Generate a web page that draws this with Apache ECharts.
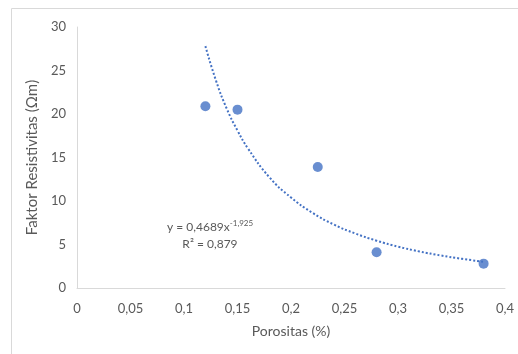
<!DOCTYPE html>
<html>
<head>
<meta charset="utf-8">
<script src="https://cdn.jsdelivr.net/npm/echarts@6/dist/echarts.min.js"></script>
<style>
  html, body { margin: 0; padding: 0; background: #fff; }
  #chart { width: 518px; height: 354px; }
</style>
</head>
<body>
<div id="chart"></div>
<script>
// data points
const porositas = [0.12, 0.15, 0.225, 0.28, 0.38];
const faktor = [20.9, 20.5, 13.9, 4.1, 2.8];

// power trendline y = 0,4689x^-1,925, sampled off the dotted curve
const trendX = [0.12, 0.13, 0.14, 0.15, 0.16, 0.18, 0.2, 0.22, 0.24, 0.26, 0.28, 0.3, 0.32, 0.34, 0.36, 0.38];
const trendY = [27.8, 23.8, 20.6, 18.1, 16.0, 12.7, 10.4, 8.65, 7.3, 6.27, 5.44, 4.76, 4.2, 3.74, 3.35, 3.02];

const xTicks = [0, 0.05, 0.1, 0.15, 0.2, 0.25, 0.3, 0.35, 0.4];
const yTicks = [0, 5, 10, 15, 20, 25, 30];

const blue = "#4472c4";
const gray = "#595959";
const font = "Lato, 'Open Sans', sans-serif";

const chart = echarts.init(document.getElementById("chart"));

chart.setOption({
  animation: false,
  textStyle: { fontFamily: font },
  grid: { left: 77, right: 13, top: 27, bottom: 66 },
  graphic: [
    {
      type: "rect",
      shape: { x: 11.5, y: 8.5, width: 530, height: 360 },
      style: { fill: "none", stroke: "#d9d9d9", lineWidth: 1 },
      silent: true,
    },
    {
      type: "text",
      left: 167,
      top: 219,
      style: {
        text: "{n|y = 0,4689x}{s|-1,925}\n{n|     R² = 0,879}",
        rich: {
          n: { fontSize: 12, fill: gray, fontFamily: font, lineHeight: 17 },
          s: { fontSize: 8, fill: gray, fontFamily: font, verticalAlign: "top", lineHeight: 17, padding: [0, 0, 6, 0] },
        },
      },
    },
  ],
  xAxis: {
    type: "value",
    min: 0,
    max: 0.4,
    interval: 0.05,
    name: "Porositas (%)",
    nameLocation: "middle",
    nameGap: 36,
    nameTextStyle: { color: gray, fontSize: 14, fontFamily: font },
    axisLine: { show: true, lineStyle: { color: "#d9d9d9", width: 1 } },
    axisTick: { show: false },
    splitLine: { show: false },
    axisLabel: {
      color: gray,
      fontSize: 13,
      margin: 14,
      customValues: xTicks,
      formatter: (v) => String(+v.toFixed(2)).replace(".", ","),
    },
  },
  yAxis: {
    type: "value",
    min: 0,
    max: 30,
    interval: 5,
    name: "Faktor Resistivitas (Ωm)",
    nameLocation: "middle",
    nameGap: 28,
    nameTextStyle: { color: gray, fontSize: 15, fontFamily: font },
    axisLine: { show: true, lineStyle: { color: "#d9d9d9", width: 1 } },
    axisTick: { show: false },
    splitLine: { show: false },
    axisLabel: {
      color: gray,
      fontSize: 13,
      margin: 11,
      customValues: yTicks,
    },
  },
  series: [
    {
      type: "line",
      data: trendX.map((x, i) => [x, trendY[i]]),
      smooth: true,
      showSymbol: false,
      lineStyle: { color: blue, width: 2, type: [2, 2] },
      z: 2,
    },
    {
      type: "scatter",
      data: porositas.map((x, i) => [x, faktor[i]]),
      symbolSize: 10,
      itemStyle: { color: blue },
      z: 3,
    },
  ],
});
</script>
</body>
</html>
